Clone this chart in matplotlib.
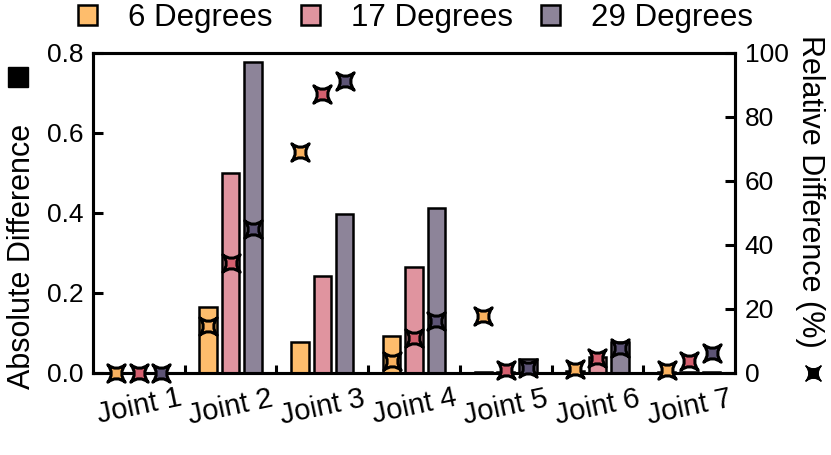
import numpy as np
import matplotlib
matplotlib.use('Agg')
import matplotlib.pyplot as plt
from matplotlib.path import Path
from matplotlib.patches import Patch
from matplotlib.lines import Line2D

plt.rcParams['font.family'] = ['Liberation Sans', 'DejaVu Sans']

#%% data
joints = ['Joint 1', 'Joint 2', 'Joint 3', 'Joint 4', 'Joint 5', 'Joint 6', 'Joint 7']
series = ['6 Degrees', '17 Degrees', '29 Degrees']

abs_6 = [0.0, 0.166, 0.078, 0.092, 0.002, 0.004, 0.002]
abs_17 = [0.0, 0.499, 0.243, 0.266, 0.003, 0.040, 0.002]
abs_29 = [0.0, 0.777, 0.397, 0.412, 0.034, 0.078, 0.003]

rel_6 = [0.0, 14.7, 69.2, 3.8, 17.8, 1.1, 1.0]
rel_17 = [0.0, 34.5, 87.1, 11.0, 1.0, 4.6, 3.8]
rel_29 = [0.0, 45.0, 91.4, 16.2, 1.5, 7.7, 6.1]

bar_colors = ['#FEBD6C', '#E0949F', '#8D8499']
mark_colors = ['#FAB25F', '#D5606F', '#5D5476']

#%% concave 4 point star marker
c = 0.2
verts = [(-1, 1), (0, c), (1, 1), (c, 0), (1, -1), (0, -c), (-1, -1), (-c, 0), (-1, 1), (-1, 1)]
codes = [Path.MOVETO, Path.CURVE3, Path.CURVE3, Path.CURVE3, Path.CURVE3,
         Path.CURVE3, Path.CURVE3, Path.CURVE3, Path.CURVE3, Path.CLOSEPOLY]
star = Path(verts, codes)

#%% plot
fig = plt.figure(figsize=(8.31, 4.55), dpi=100)
ax = fig.add_axes([93/831, 1-373/455, (735-93)/831, (373-53)/455])
ax2 = ax.twinx()

x = np.arange(len(joints))
offs = [-0.245, 0.0, 0.245]
width = 0.19
abs_all = [abs_6, abs_17, abs_29]
rel_all = [rel_6, rel_17, rel_29]

for i in range(3):
    ax.bar(x + offs[i], abs_all[i], width, color=bar_colors[i], edgecolor='black', linewidth=1.8, zorder=2)
    ax2.plot(x + offs[i], rel_all[i], linestyle='none', marker=star, markersize=12.5,
             markerfacecolor=mark_colors[i], markeredgecolor='black', markeredgewidth=2.2,
             clip_on=False, zorder=3)

ax.set_xlim(-0.5, 6.5)
ax.set_ylim(0, 0.8)
ax2.set_ylim(0, 100)
ax.set_yticks([0, 0.2, 0.4, 0.6, 0.8])
ax.set_yticklabels(['0.0', '0.2', '0.4', '0.6', '0.8'])
ax2.set_yticks([0, 20, 40, 60, 80, 100])

ax.set_xticks(x)
ax.set_xticklabels(joints, rotation=12, fontsize=21)
ax.set_xticks(x[:-1] + 0.5, minor=True)
ax.tick_params(axis='x', which='major', length=0, pad=8)
ax.tick_params(axis='x', which='minor', direction='in', length=6, width=2.2)
ax.tick_params(axis='y', direction='in', length=7, width=2.2, labelsize=19, pad=7)
ax2.tick_params(axis='y', direction='in', length=7, width=2.2, labelsize=19, pad=7)

for a in (ax, ax2):
    for s in a.spines.values():
        s.set_linewidth(2.2)

# axis titles with their symbol keys
fig.text(22/831, 1-256/455, 'Absolute Difference', rotation=90, fontsize=22, ha='center', va='center')
fig.text(810/831, 1-191/455, 'Relative Difference (%)', rotation=270, fontsize=22, ha='center', va='center')
fig.add_artist(Line2D([18/831], [1-77/455], marker='s', markersize=14, color='black',
                      linestyle='none', transform=fig.transFigure))
fig.add_artist(Line2D([813/831], [1-373/455], marker=star, markersize=11, color='black',
                      linestyle='none', transform=fig.transFigure))

handles = [Patch(facecolor=bar_colors[i], edgecolor='black', linewidth=1.8) for i in range(3)]
fig.legend(handles, series, loc='center', bbox_to_anchor=(0.5, 1-18/455), ncol=3, frameon=False,
           fontsize=22.5, handlelength=0.6, handleheight=0.6, handletextpad=1.0,
           columnspacing=0.9, borderaxespad=0)

fig.savefig('out.png', dpi=100)
